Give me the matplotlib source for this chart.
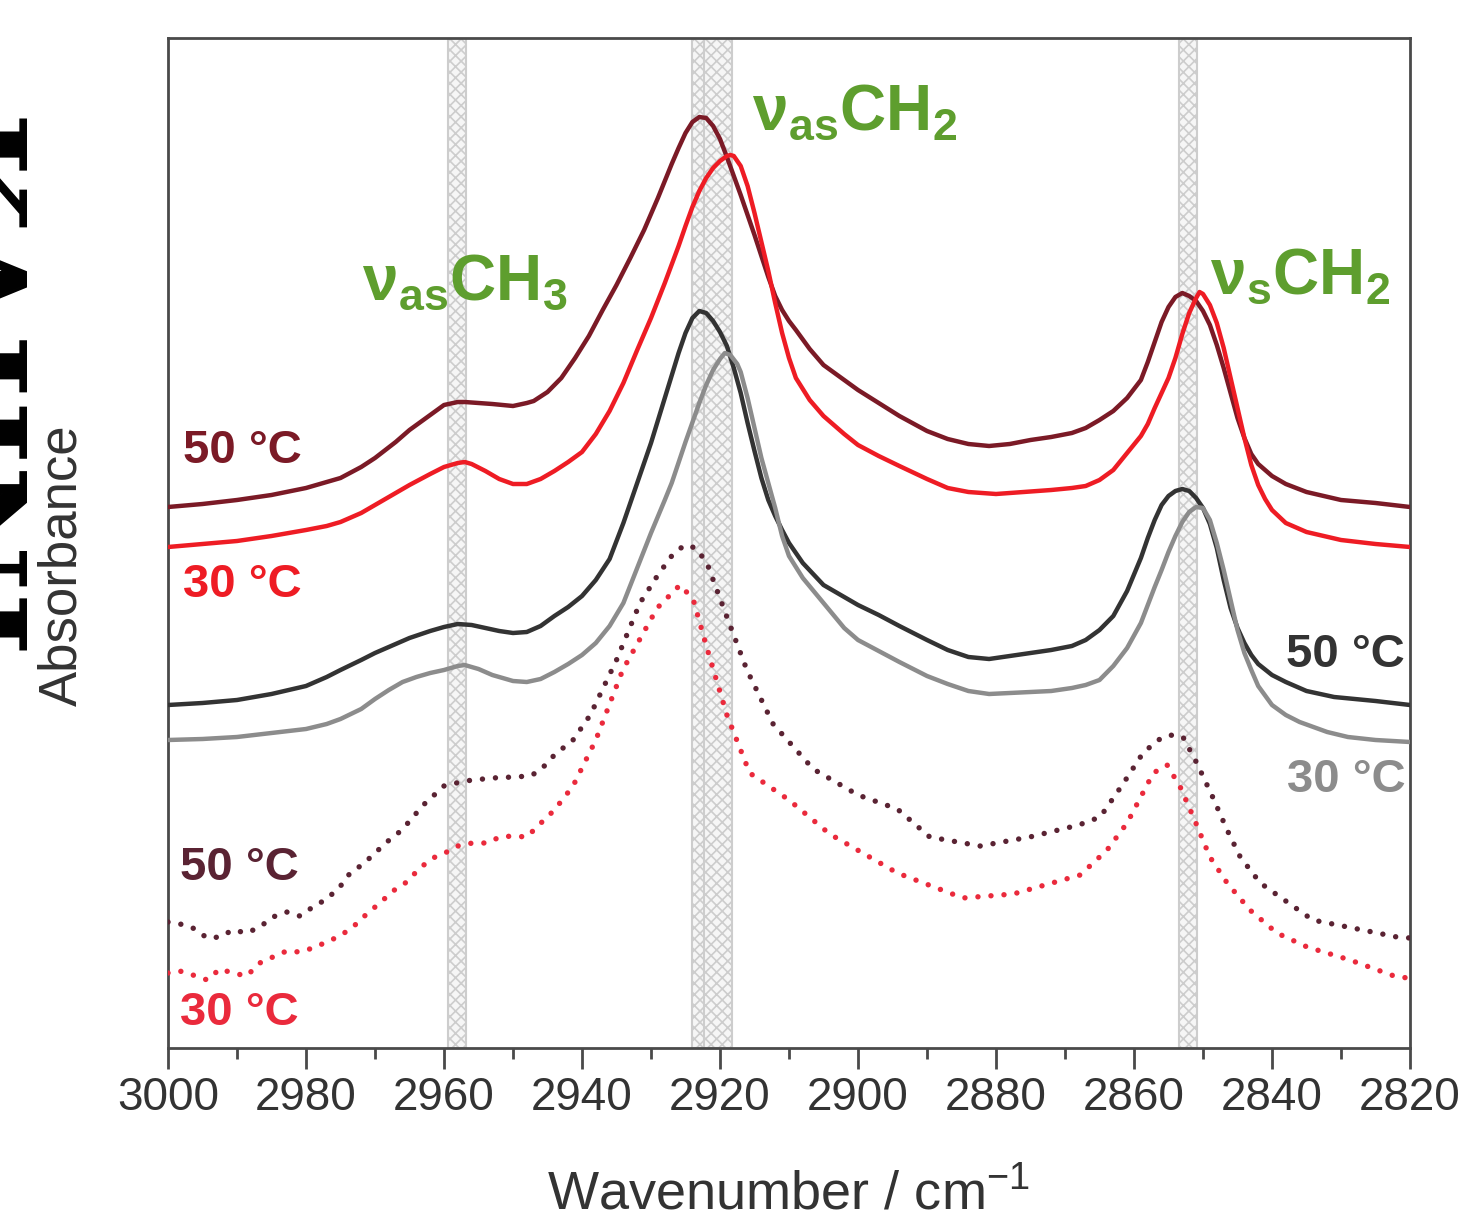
import numpy as np
import matplotlib.pyplot as plt
from matplotlib.ticker import MultipleLocator

plt.rcParams['font.family'] = ['Liberation Sans', 'DejaVu Sans']
plt.rcParams['mathtext.fontset'] = 'custom'
plt.rcParams['mathtext.rm'] = 'Liberation Sans'
plt.rcParams['hatch.linewidth'] = 1.2

# ── Data (absorbance in arbitrary offset units) ─────────────────────────────
# solid dark red: 50 °C
sr50_wn = [3000, 2995, 2990, 2985, 2980, 2977, 2975, 2972, 2970, 2967, 2965, 2962, 2960, 2958, 2957,
           2955, 2953, 2950, 2948, 2947, 2945, 2943, 2941, 2939, 2937, 2935, 2933, 2931, 2929, 2927,
           2926, 2925, 2924, 2923, 2922, 2921, 2920, 2919, 2918, 2917, 2916, 2915, 2914, 2913, 2912,
           2911, 2910, 2909, 2907, 2905, 2902, 2900, 2897, 2894, 2890, 2887, 2884, 2881, 2878, 2875,
           2872, 2869, 2867, 2865, 2863, 2861, 2859, 2858, 2857, 2856, 2855, 2854, 2853, 2852, 2851,
           2850, 2849, 2848, 2847, 2846, 2845, 2844, 2843, 2842, 2840, 2838, 2835, 2830, 2825, 2820]
sr50_a = [541, 544, 548, 553, 560, 566, 570, 581, 590, 606, 618, 633, 643, 646, 646,
          645, 644, 642, 645, 647, 656, 670, 690, 712, 738, 763, 790, 818, 850, 884,
          900, 915, 926, 931, 930, 922, 909, 891, 872, 853, 833, 813, 792, 771, 752,
          738, 727, 718, 699, 683, 668, 658, 645, 632, 617, 609, 604, 602, 604, 608,
          611, 615, 620, 628, 637, 650, 668, 686, 706, 726, 741, 751, 755, 752, 747,
          737, 723, 703, 680, 655, 630, 610, 594, 584, 572, 564, 556, 548, 545, 541]

# solid red: 30 °C
sr30_wn = [3000, 2995, 2990, 2985, 2980, 2977, 2975, 2972, 2970, 2967, 2965, 2962, 2960, 2958, 2957,
           2956, 2954, 2952, 2950, 2948, 2946, 2944, 2942, 2940, 2938, 2936, 2934, 2932, 2930, 2928,
           2926, 2925, 2924, 2923, 2922, 2921, 2920, 2919, 2918.5, 2918, 2917, 2916, 2915, 2914, 2913,
           2912, 2911, 2910, 2909, 2907, 2905, 2902, 2900, 2897, 2894, 2890, 2887, 2884, 2880, 2876,
           2872, 2869, 2867, 2865, 2863, 2861, 2859, 2858, 2857, 2856, 2855, 2854, 2853, 2852, 2851,
           2850.5, 2850, 2849, 2848, 2847, 2846, 2845, 2844, 2843, 2842, 2841, 2840, 2838, 2835, 2830,
           2825, 2820]
sr30_a = [501, 504, 507, 512, 518, 522, 526, 535, 543, 555, 563, 574, 581, 585, 586,
          584, 577, 569, 564, 564, 569, 577, 586, 596, 614, 637, 665, 698, 730, 765,
          802, 822, 841, 857, 870, 880, 887, 892, 893, 892, 882, 862, 835, 806, 777,
          745, 715, 690, 670, 648, 632, 614, 603, 592, 582, 569, 560, 556, 554, 556,
          558, 560, 562, 568, 578, 595, 612, 624, 640, 655, 670, 690, 714, 735, 750,
          756, 754, 743, 725, 700, 670, 640, 610, 583, 563, 549, 538, 525, 516, 508,
          504, 501]

# solid dark grey: 50 °C
sg50_wn = [3000, 2995, 2990, 2985, 2980, 2977, 2975, 2972, 2970, 2967, 2965, 2962, 2960, 2958, 2956,
           2954, 2952, 2950, 2948, 2946, 2944, 2942, 2940, 2938, 2936, 2934, 2932, 2930, 2928, 2926,
           2925, 2924, 2923, 2922, 2921, 2920, 2919, 2918, 2917, 2916, 2915, 2914, 2913, 2912, 2911,
           2910, 2908, 2905, 2902, 2900, 2897, 2894, 2890, 2887, 2884, 2881, 2878, 2875, 2872, 2869,
           2867, 2865, 2863, 2861, 2859, 2858, 2857, 2856, 2855, 2854, 2853, 2852, 2851, 2850, 2849,
           2848, 2847, 2846, 2845, 2844, 2843, 2842, 2840, 2838, 2835, 2831, 2825, 2820]
sg50_a = [343, 345, 348, 354, 362, 371, 378, 388, 395, 404, 410, 417, 421, 424, 423,
          420, 417, 415, 416, 422, 432, 441, 452, 468, 489, 525, 565, 605, 650, 695,
          715, 730, 737, 735, 727, 716, 702, 680, 655, 625, 597, 570, 548, 532, 518,
          505, 485, 463, 451, 443, 433, 422, 408, 398, 391, 389, 392, 395, 398, 402,
          408, 418, 432, 457, 490, 510, 528, 543, 552, 557, 559, 557, 550, 540, 524,
          500, 468, 440, 420, 405, 393, 384, 373, 366, 357, 351, 347, 343]

# solid grey: 30 °C
sg30_wn = [3000, 2995, 2990, 2985, 2980, 2977, 2975, 2972, 2970, 2968, 2966, 2964, 2962, 2960, 2958,
           2957, 2955, 2953, 2950, 2948, 2946, 2944, 2942, 2940, 2938, 2936, 2934, 2932, 2930, 2928,
           2927, 2925, 2923, 2922, 2921, 2920, 2919.3, 2918.5, 2917.5, 2917, 2916, 2915, 2914, 2913, 2912,
           2911, 2910, 2908, 2905, 2902, 2900, 2897, 2894, 2890, 2887, 2884, 2881, 2878, 2875, 2872,
           2869, 2867, 2865, 2863, 2861, 2859, 2858, 2857, 2856, 2855, 2854, 2853, 2852, 2851, 2850,
           2849, 2848, 2847, 2846, 2845, 2844, 2843, 2842, 2840, 2838, 2836, 2832, 2829, 2825, 2820]
sg30_a = [308, 309, 311, 315, 319, 324, 329, 339, 349, 358, 366, 371, 375, 378, 382,
          383, 379, 373, 367, 366, 369, 376, 384, 393, 405, 422, 445, 480, 515, 548,
          565, 606, 645, 663, 678, 689, 695, 693, 684, 676, 650, 620, 590, 565, 540,
          512, 492, 470, 445, 420, 408, 397, 386, 372, 364, 357, 354, 355, 356, 357,
          360, 363, 368, 382, 400, 425, 443, 461, 478, 496, 512, 526, 536, 541, 540,
          528, 505, 478, 448, 418, 395, 378, 362, 343, 333, 326, 316, 311, 308, 306]

# dotted dark red: 50 °C
dr50_wn = [3000, 2998.7, 2996.4, 2994.3, 2992.5, 2990.6, 2988.6, 2986.7, 2984.8, 2982.8,
           2980.9, 2979, 2977, 2975.1, 2973.6, 2971.7, 2970, 2968.1, 2966.1, 2963,
           2960, 2957, 2953, 2950, 2947.5, 2946, 2944, 2941.3, 2938.8, 2935,
           2931.6, 2929, 2926.8, 2925.1, 2923.5, 2921.9, 2919, 2916.1, 2912.3, 2906.5,
           2900, 2894.3, 2889.6, 2882.3, 2875.1, 2868, 2864.9, 2861.6, 2858.7, 2856.5,
           2854.8, 2852.9, 2850.9, 2848.6, 2846.5, 2844.6, 2841.7, 2837.8, 2834.1, 2828.3,
           2821.9, 2820]
dr50_a = [126, 125, 120, 110, 111, 118, 115, 121, 131, 136,
          132, 141, 149, 161, 175, 184, 195, 207, 218, 243,
          262, 267, 270, 271, 272, 278, 293, 308, 333, 388,
          445, 473, 494, 503, 500, 485, 431, 378, 324, 279,
          253, 239, 211, 202, 211, 223, 231, 264, 295, 308,
          313, 311, 285, 251, 218, 191, 165, 146, 128, 120,
          111, 110]

# dotted red: 30 °C
dr30_wn = [3000, 2998.3, 2996.4, 2994.3, 2992.5, 2990.6, 2988.6, 2986.7, 2984.8, 2982.8,
           2980.9, 2979, 2977, 2975.1, 2973.2, 2971.2, 2969.3, 2967.4, 2965.4, 2963.5,
           2961.6, 2959.6, 2957.7, 2955.8, 2953.8, 2951.9, 2950, 2948, 2946.1, 2944,
           2941.3, 2938, 2934.1, 2929.1, 2925.8, 2923.9, 2921.9, 2919, 2915.7, 2910,
           2904.1, 2894.3, 2884.8, 2877.5, 2867.8, 2863.9, 2861, 2857.2, 2855.2, 2853.3,
           2851.4, 2849, 2846.5, 2843.2, 2839.3, 2834.9, 2828.7, 2821.9, 2820]
dr30_a = [75, 77, 73, 68, 79, 75, 72, 85, 91, 97,
          96, 100, 106, 112, 121, 134, 145, 157, 166, 180,
          190, 196, 203, 205, 205, 211, 212, 211, 224, 238,
          262, 308, 378, 440, 463, 449, 400, 333, 275, 248,
          214, 175, 150, 154, 173, 198, 225, 275, 283, 261,
          231, 191, 165, 138, 115, 101, 88, 71, 70]

# marked band positions (cm-1)
bands = [(2959.4, 2956.8), (2924.1, 2921.7), (2922.3, 2918.3), (2853.5, 2850.9)]

# ── Colours ────────────────────────────────────────────────────────────────
C_DRED = "#7b1a26"
C_RED = "#ee1c24"
C_DGREY = "#333333"
C_GREY = "#8c8c8c"
C_DOT_DRED = "#5a2333"
C_DOT_RED = "#ea2a3c"
C_GREEN = "#5e9e2e"

fig = plt.figure(figsize=(14.61, 12.15), dpi=100)
ax = fig.add_axes([168 / 1461, 167 / 1215, 1242 / 1461, 1010 / 1215])

for lo, hi in bands:
    ax.axvspan(hi, lo, facecolor="#f6f6f6", edgecolor="#cdcdcd", hatch="xxx",
               linewidth=1.5, zorder=1)

solid_kw = dict(lw=3.2, solid_joinstyle="round", solid_capstyle="round", zorder=3)
ax.plot(sr50_wn, sr50_a, color=C_DRED, **solid_kw)
ax.plot(sr30_wn, sr30_a, color=C_RED, **solid_kw)
ax.plot(sg50_wn, sg50_a, color=C_DGREY, **solid_kw)
ax.plot(sg30_wn, sg30_a, color=C_GREY, **solid_kw)

dot_kw = dict(lw=3.9, linestyle=(0, (0.01, 2.4)), dash_capstyle="round", zorder=3)
ax.plot(dr50_wn, dr50_a, color=C_DOT_DRED, **dot_kw)
ax.plot(dr30_wn, dr30_a, color=C_DOT_RED, **dot_kw)

ax.set_xlim(3000, 2820)
ax.set_ylim(0, 1010)

# ── Axes styling ───────────────────────────────────────────────────────────
for sp in ax.spines.values():
    sp.set_color("#4a4a4a")
    sp.set_linewidth(2.0)
ax.set_yticks([])
ax.xaxis.set_major_locator(MultipleLocator(20))
ax.xaxis.set_minor_locator(MultipleLocator(10))
ax.tick_params(axis="x", which="major", direction="out", length=15, width=2.0,
               color="#4a4a4a", labelsize=33, labelcolor="#333333", pad=5)
ax.tick_params(axis="x", which="minor", direction="out", length=8, width=2.0,
               color="#4a4a4a")

ax.set_xlabel("Wavenumber / cm$^\\mathregular{-1}$", fontsize=39, color="#333333")
ax.xaxis.set_label_coords(0.5, -0.119)
ax.set_ylabel("Absorbance", fontsize=38, color="#333333")
ax.yaxis.set_label_coords(-0.065, 0.478)

# ── Temperature labels ─────────────────────────────────────────────────────
lab_kw = dict(fontsize=34, fontweight="bold", va="center")
ax.text(2997.8, 597, "50 °C", color=C_DRED, ha="left", **lab_kw)
ax.text(2997.8, 463, "30 °C", color=C_RED, ha="left", **lab_kw)
ax.text(2820.7, 393, "50 °C", color=C_DGREY, ha="right", **lab_kw)
ax.text(2820.7, 268, "30 °C", color=C_GREY, ha="right", **lab_kw)
ax.text(2998.3, 180, "50 °C", color=C_DOT_DRED, ha="left", **lab_kw)
ax.text(2998.3, 35, "30 °C", color=C_DOT_RED, ha="left", **lab_kw)

# ── Band assignments ───────────────────────────────────────────────────────
grn_kw = dict(fontsize=46, fontweight="bold", color=C_GREEN, ha="left", va="baseline")
ax.text(2971.9, 748, "\u03bd$_\\mathregular{as}$CH$_\\mathregular{3}$", **grn_kw)
ax.text(2915.4, 918, "\u03bd$_\\mathregular{as}$CH$_\\mathregular{2}$", **grn_kw)
ax.text(2849.0, 755, "\u03bd$_\\mathregular{s}$CH$_\\mathregular{2}$", **grn_kw)

# clipped serif lettering at the left margin of the source image
fig.text(-82 / 1461, 1 - 390 / 1215, "KAHNI", rotation=270, rotation_mode="anchor",
         ha="center", va="baseline", fontsize=100, fontweight="bold",
         family="DejaVu Serif", color="black")

fig.savefig("out.png", dpi=100, facecolor="white")
